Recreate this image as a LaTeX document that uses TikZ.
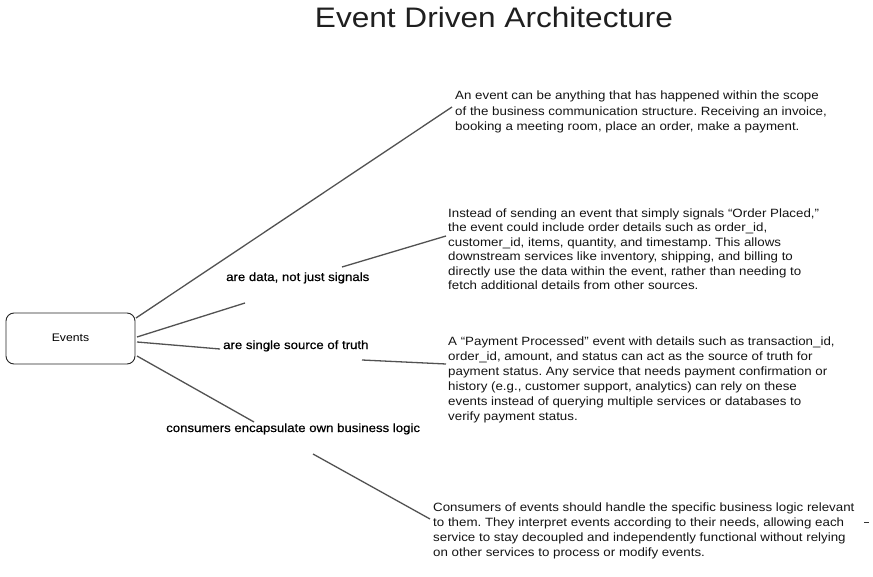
\documentclass[tikz,border=0pt]{standalone}
\usepackage{fontspec}
\setmainfont[FakeStretch=1.11]{Liberation Sans}
\newfontfamily\labelfont[FakeStretch=1.1,FakeBold=0.6]{Liberation Sans}
\newfontfamily\titlefont[FakeStretch=1.12]{Liberation Sans}
\frenchspacing
\begin{document}
\begin{tikzpicture}[x=1pt,y=-1pt,
  conn/.style={draw=black!68, line width=1.3pt},
  blocktext/.style={anchor=base west, inner sep=0pt, align=left, text=black!92, font=\fontsize{12}{15}\selectfont},
  labeltext/.style={anchor=base west, inner sep=0pt, text=black, font=\labelfont\fontsize{12}{15}\selectfont},
  evbox/.style={draw=black!85, line width=0.9pt, rounded corners=8pt, minimum width=129pt, minimum height=51pt, inner sep=0pt, font=\fontsize{11}{13}\selectfont}
]
\useasboundingbox (0,0) rectangle (873,577);
\fill[white] (0,0) rectangle (873,577);

\node[anchor=base, inner sep=0pt, font=\titlefont\fontsize{28.2}{32}\selectfont, text=black!88] (title) at (494,28) {Event Driven Architecture};

\node[evbox] (ev) at (70.5,338.5) {\raisebox{2pt}{Events}};

% anchors are at the baseline of the LAST line of each block
\node[blocktext, font=\fontsize{12}{15.5}\selectfont] (b1) at (455,131) {An event can be anything that has happened within the scope\\of the business communication structure. Receiving an invoice,\\booking a meeting room, place an order, make a payment.};

\node[blocktext, font=\fontsize{12}{14.4}\selectfont] (b2) at (448,289.5) {Instead of sending an event that simply signals “Order Placed,”\\the event could include order details such as order\_id,\\customer\_id, items, quantity, and timestamp. This allows\\downstream services like inventory, shipping, and billing to\\directly use the data within the event, rather than needing to\\fetch additional details from other sources.};

\node[blocktext] (b3) at (448,420.5) {A “Payment Processed” event with details such as transaction\_id,\\order\_id, amount, and status can act as the source of truth for\\payment status. Any service that needs payment confirmation or\\history (e.g., customer support, analytics) can rely on these\\events instead of querying multiple services or databases to\\verify payment status.};

\node[blocktext] (b4) at (433,556.5) {Consumers of events should handle the specific business logic relevant\\to them. They interpret events according to their needs, allowing each\\service to stay decoupled and independently functional without relying\\on other services to process or modify events.};

\node[labeltext] (l1) at (226,281) {are data, not just signals};
\node[labeltext] (l2) at (223,349) {are single source of truth};
\node[labeltext] (l3) at (166,432) {consumers encapsulate own business logic};

% connector end points
\coordinate (e1) at (136,318);
\coordinate (e2) at (137,337);
\coordinate (e3) at (137,342);
\coordinate (e4) at (137,356);
\coordinate (t1) at (452,107);
\coordinate (t2) at (245,303);
\coordinate (s3) at (342,267);
\coordinate (t3) at (446,236);
\coordinate (t4) at (220,349);
\coordinate (s5) at (362,360);
\coordinate (t5) at (446,364);
\coordinate (t6) at (254,422);
\coordinate (s7) at (313,454);
\coordinate (t7) at (430,519);
\coordinate (d1) at (864,522.5);
\coordinate (d2) at (869,522.5);

\draw[conn] (e1) -- (t1);
\draw[conn] (e2) -- (t2);
\draw[conn] (s3) -- (t3);
\draw[conn] (e3) -- (t4);
\draw[conn] (s5) -- (t5);
\draw[conn] (e4) -- (t6);
\draw[conn] (s7) -- (t7);
\draw[draw=black!80, line width=0.8pt] (d1) -- (d2);
\end{tikzpicture}
\end{document}
